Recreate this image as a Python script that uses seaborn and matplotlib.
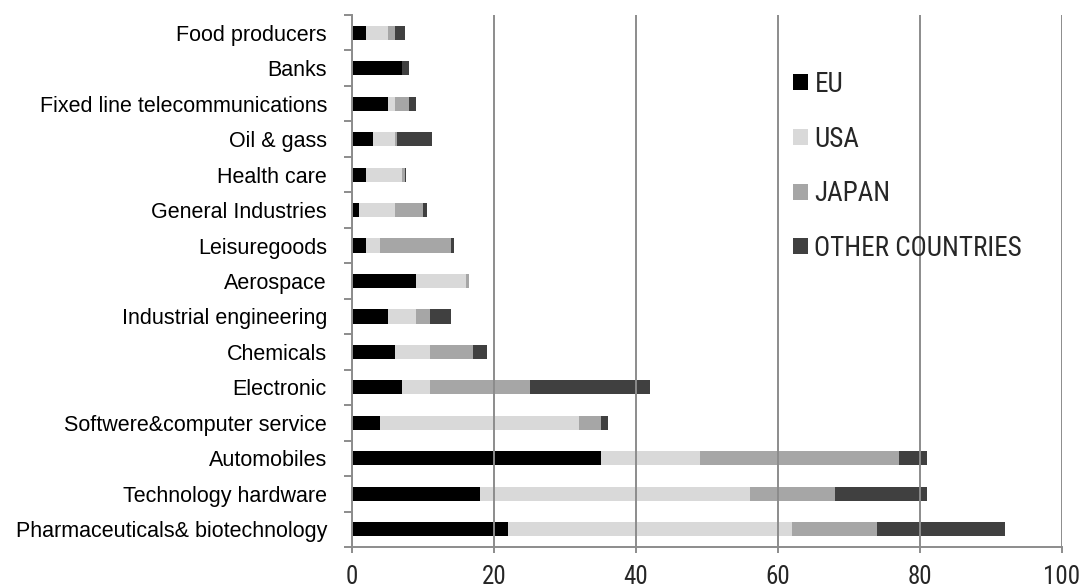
import numpy as np
import matplotlib
matplotlib.use("Agg")
import matplotlib.pyplot as plt
from matplotlib.patches import Patch
from matplotlib.ticker import FixedLocator
from matplotlib.font_manager import FontProperties, fontManager
import seaborn as sns

# R&D investment by sector, split by region
categories = [
    "Food producers",
    "Banks",
    "Fixed line telecommunications",
    "Oil & gass",
    "Health care",
    "General Industries",
    "Leisuregoods",
    "Aerospace",
    "Industrial engineering",
    "Chemicals",
    "Electronic",
    "Softwere&computer service",
    "Automobiles",
    "Technology hardware",
    "Pharmaceuticals& biotechnology",
]
eu = [2, 7, 5, 3, 2, 1, 2, 9, 5, 6, 7, 4, 35, 18, 22]
usa = [3, 0, 1, 3, 5, 5, 2, 7, 4, 5, 4, 28, 14, 38, 40]
japan = [1, 0, 2, 0.3, 0.5, 4, 10, 0.5, 2, 6, 14, 3, 28, 12, 12]
other = [1.5, 1, 1, 5, 0.1, 0.5, 0.3, 0, 3, 2, 17, 1, 4, 13, 18]

series_names = ["EU", "USA", "JAPAN", "OTHER COUNTRIES"]
series_colors = ["#000000", "#d9d9d9", "#a6a6a6", "#404040"]
x_ticks = [0, 20, 40, 60, 80, 100]

sns.set_style("white")
plt.rcParams["font.family"] = ["Liberation Sans", "DejaVu Sans"]

# Pick a condensed sans for the axis numbers and legend, if one is available
installed = {f.name for f in fontManager.ttflist}
narrow_family = "Liberation Sans"
narrow_stretch = "normal"
for name in ["Liberation Sans Narrow", "Arial Narrow", "Roboto Condensed",
             "Open Sans Condensed", "Noto Sans Condensed"]:
    if name in installed:
        narrow_family = name
        break
else:
    condensed = [f for f in fontManager.ttflist
                 if f.name == "DejaVu Sans" and "ondensed" in str(f.stretch) + f.fname]
    if condensed:
        narrow_family = "DejaVu Sans"
        narrow_stretch = "condensed"

is_narrow = narrow_family != "Liberation Sans"
label_font = FontProperties(family=["Liberation Sans", "DejaVu Sans"], size=15.5)
tick_font = FontProperties(family=[narrow_family, "DejaVu Sans"],
                           stretch=narrow_stretch, size=18 if is_narrow else 16)
legend_font = FontProperties(family=[narrow_family, "DejaVu Sans"],
                             stretch=narrow_stretch, size=19.5 if is_narrow else 16)

fig = plt.figure(figsize=(10.81, 5.88), dpi=100)
ax = fig.add_axes([352 / 1081, 1 - 547 / 588, (1062 - 352) / 1081, (547 - 15) / 588])

# Stacked bars: draw running totals from the largest down so each segment shows
values = np.array([eu, usa, japan, other], dtype=float)
running = np.cumsum(values, axis=0)
for i in reversed(range(len(series_names))):
    sns.barplot(
        x=running[i], y=categories, order=categories, orient="h",
        color=series_colors[i], saturation=1, width=0.4,
        errorbar=None, linewidth=0, ax=ax,
    )

ax.set_xlim(0, 100)
ax.set_ylim(len(categories) - 0.5, -0.5)
ax.set_xlabel("")
ax.set_ylabel("")

grid_color = "#8c8c8c"
ax.set_axisbelow(False)
ax.xaxis.set_major_locator(FixedLocator(x_ticks))
ax.grid(axis="x", color=grid_color, linewidth=1.4, zorder=5)
ax.grid(axis="y", visible=False)

for side in ["top", "right"]:
    ax.spines[side].set_visible(False)
for side in ["left", "bottom"]:
    ax.spines[side].set_color(grid_color)
    ax.spines[side].set_linewidth(1.4)
    ax.spines[side].set_zorder(6)

# Category labels centred on bars, tick marks on category boundaries
ax.yaxis.set_major_locator(FixedLocator(np.arange(len(categories))))
ax.set_yticklabels(categories, fontproperties=label_font)
ax.yaxis.set_minor_locator(FixedLocator(np.arange(len(categories) + 1) - 0.5))
ax.tick_params(axis="y", which="major", length=0, pad=18, colors="black")
ax.tick_params(axis="y", which="minor", left=True, length=6, width=1.4, color=grid_color)

ax.set_xticks(x_ticks)
ax.set_xticklabels([str(t) for t in x_ticks], fontproperties=tick_font)
ax.tick_params(axis="x", which="major", bottom=True, length=4, width=1.4, color=grid_color, pad=9)

handles = [Patch(facecolor=c, edgecolor="none") for c in series_colors]
ax.legend(
    handles, series_names, loc="upper left",
    bbox_to_anchor=(793 / 1081, 1 - 71 / 588), bbox_transform=fig.transFigure,
    frameon=False, prop=legend_font, handlelength=0.54, handleheight=0.54,
    handletextpad=0.25, labelspacing=1.02, borderpad=0, borderaxespad=0,
)

fig.savefig("out.png", dpi=100)
